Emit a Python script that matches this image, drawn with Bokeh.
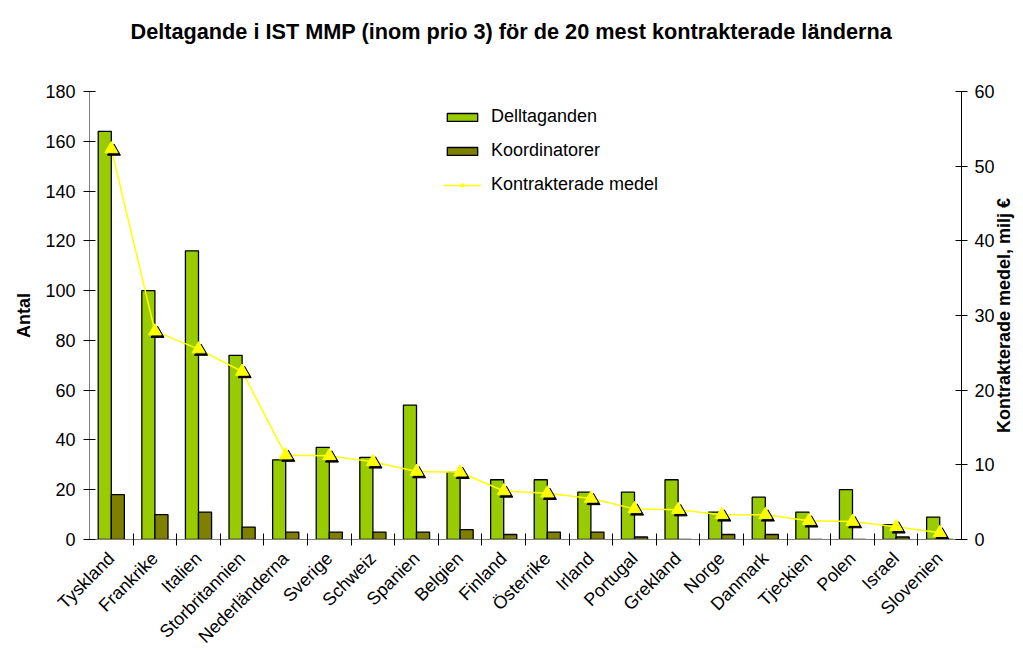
import math
from bokeh.plotting import figure
from bokeh.layouts import row
from bokeh.models import (Range1d, LinearAxis, FixedTicker, Legend, LegendItem,
                          ColumnDataSource, Title)
from bokeh.transform import dodge
from bokeh.embed import file_html
from bokeh.resources import INLINE

title_text = "Deltagande i IST MMP (inom prio 3) för de 20 mest kontrakterade länderna"
left_label = "Antal"
right_label = "Kontrakterade medel, milj €"
countries = ["Tyskland", "Frankrike", "Italien", "Storbritannien", "Nederländerna",
             "Sverige", "Schweiz", "Spanien", "Belgien", "Finland", "Österrike",
             "Irland", "Portugal", "Grekland", "Norge", "Danmark", "Tjeckien",
             "Polen", "Israel", "Slovenien"]
deltaganden = [164, 100, 116, 74, 32, 37, 33, 54, 27, 24, 24, 19, 19, 24, 11, 17, 11, 20, 6, 9]
koordinatorer = [18, 10, 11, 5, 3, 3, 3, 3, 4, 2, 3, 3, 1, 0, 2, 2, 0, 0, 1, 0]
medel = [52.3, 27.9, 25.5, 22.5, 11.3, 11.2, 10.4, 9.1, 9.0, 6.5, 6.2, 5.5, 4.1,
         4.0, 3.3, 3.3, 2.5, 2.4, 1.7, 0.9]
left_ticks = [0, 20, 40, 60, 80, 100, 120, 140, 160, 180]
right_ticks = [0, 10, 20, 30, 40, 50, 60]

FONT = "Liberation Sans"
n = len(countries)
centers = [i + 0.5 for i in range(n)]
bounds = [float(i) for i in range(1, n)]

src = ColumnDataSource(dict(x=centers, d=deltaganden, k=koordinatorer, m=medel))

p = figure(width=997, height=657, output_backend="svg", toolbar_location=None,
           x_range=Range1d(0, n), y_range=Range1d(0, 180),
           min_border_left=89, min_border_right=34, min_border_top=91,
           min_border_bottom=118)
p.extra_y_ranges = {"r": Range1d(0, 60)}
p.outline_line_color = None
p.xgrid.visible = False
p.ygrid.visible = False
p.background_fill_color = "white"
p.border_fill_color = "white"

xa = p.below[0]
ya = p.left[0]

# blank axis above the frame (one unlabelled, undrawn tick), used only as spacing under the title
gap = LinearAxis(ticker=FixedTicker(ticks=[10.0]))
gap.major_label_overrides = {10.0: ""}
gap.major_label_text_font_size = "1px"
gap.axis_line_color = None
gap.major_tick_line_color = None
gap.minor_tick_line_color = None
gap.major_tick_in = 0
gap.major_tick_out = 46
gap.minor_tick_in = 0
gap.minor_tick_out = 0
gap.major_label_standoff = 0
gap.axis_label_standoff = 0
p.add_layout(gap, "above")

# title (added after the spacer, so it sits outside it)
p.add_layout(Title(text=title_text, align="left", offset=41, vertical_align="top",
                   standoff=0, text_font=FONT, text_font_size="21.7px",
                   text_font_style="bold", text_color="black"), "above")

# bars
green = p.vbar(x=dodge("x", -0.15, range=p.x_range), top="d", width=0.3, source=src,
               fill_color="#99CC00", line_color="black", line_width=1.3)
dark = p.vbar(x=dodge("x", 0.15, range=p.x_range), top="k", width=0.3, source=src,
              fill_color="#808000", line_color="black", line_width=1.3)

# line with shadowed triangles
ln = p.line(x="x", y="m", source=src, y_range_name="r", line_color="#FFFF00", line_width=1.5)
p.scatter(x=dodge("x", 0.06, range=p.x_range),
          y=dodge("m", -0.33, range=p.extra_y_ranges["r"]),
          source=src, y_range_name="r", marker="triangle", size=13,
          fill_color="black", line_color="black")
tri = p.scatter(x="x", y="m", source=src, y_range_name="r", marker="triangle", size=13,
                fill_color="#FFFF00", line_color="#FFFF00")

# axes
xa.ticker = FixedTicker(ticks=centers, minor_ticks=bounds)
xa.major_label_overrides = {c: name for c, name in zip(centers, countries)}
xa.major_tick_line_color = None
xa.minor_tick_in = 6
xa.minor_tick_out = 6
xa.minor_tick_line_color = "black"
xa.axis_line_color = "#808080"
xa.major_label_orientation = math.pi / 4
xa.major_label_text_font = FONT
xa.major_label_text_font_size = "18px"
xa.major_label_text_color = "black"
xa.major_label_standoff = 10

ya.ticker = FixedTicker(ticks=left_ticks)
ya.minor_tick_line_color = None
ya.major_tick_in = 6
ya.major_tick_out = 6
ya.axis_line_color = "#808080"
ya.major_tick_line_color = "black"
ya.major_label_text_font = FONT
ya.major_label_text_font_size = "18px"
ya.major_label_text_color = "black"
ya.major_label_standoff = 8
ya.axis_label = left_label
ya.axis_label_text_font = FONT
ya.axis_label_text_font_size = "18px"
ya.axis_label_text_font_style = "bold"
ya.axis_label_text_color = "black"
ya.axis_label_standoff = 8

ra = LinearAxis(y_range_name="r", ticker=FixedTicker(ticks=right_ticks))
ra.minor_tick_line_color = None
ra.major_tick_in = 6
ra.major_tick_out = 6
ra.axis_line_color = "black"
ra.major_tick_line_color = "black"
ra.major_label_text_font = FONT
ra.major_label_text_font_size = "18px"
ra.major_label_text_color = "black"
ra.major_label_standoff = 7
p.add_layout(ra, "right")

legend = Legend(items=[
    LegendItem(label="Delltaganden", renderers=[green]),
    LegendItem(label="Koordinatorer", renderers=[dark]),
    LegendItem(label="Kontrakterade medel", renderers=[ln, tri]),
], location=(354, 344))
legend.border_line_color = None
legend.background_fill_alpha = 0
legend.label_text_font = FONT
legend.label_text_font_size = "18px"
legend.label_text_color = "black"
legend.glyph_width = 38
legend.glyph_height = 10
legend.label_height = 20
legend.spacing = 13
legend.padding = 0
legend.margin = 0
legend.label_standoff = 10
p.add_layout(legend, "center")

# narrow companion figure carrying the right-hand axis title (reads bottom-to-top)
p2 = figure(width=26, height=657, output_backend="svg", toolbar_location=None,
            x_range=Range1d(0, 1), y_range=Range1d(0, 1),
            min_border_left=20, min_border_right=0, min_border_top=91,
            min_border_bottom=118)
p2.margin = (0, 0, 0, -7)
p2.outline_line_color = None
p2.xgrid.visible = False
p2.ygrid.visible = False
p2.xaxis.visible = False
p2.border_fill_alpha = 0
p2.background_fill_alpha = 0
ya2 = p2.yaxis[0]
ya2.ticker = FixedTicker(ticks=[])
ya2.axis_line_color = None
ya2.major_tick_line_color = None
ya2.minor_tick_line_color = None
ya2.major_tick_in = 0
ya2.major_tick_out = 0
ya2.major_label_standoff = 0
ya2.axis_label = right_label
ya2.axis_label_text_font = FONT
ya2.axis_label_text_font_size = "18px"
ya2.axis_label_text_font_style = "bold"
ya2.axis_label_text_color = "black"
ya2.axis_label_standoff = 0

layout = row(p, p2, spacing=0)
open("out.html", "w").write(file_html(layout, INLINE))
